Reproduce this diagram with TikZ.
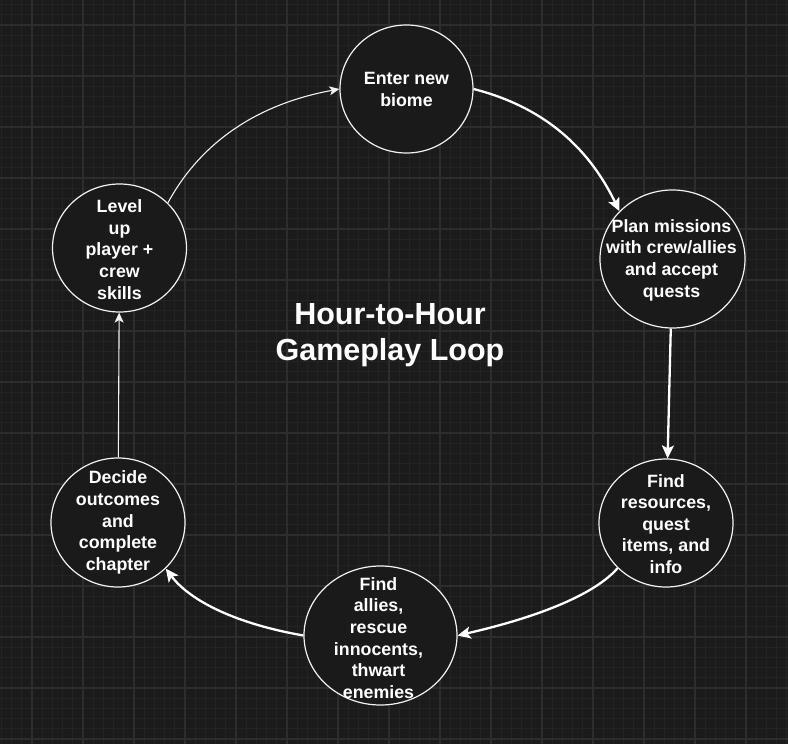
\documentclass[tikz,border=0pt]{standalone}
\usepackage{fontspec}
\setmainfont{Liberation Sans}
\usetikzlibrary{shapes.geometric,arrows.meta}
\definecolor{bgc}{HTML}{1B1B1B}
\definecolor{gridminor}{HTML}{232323}
\definecolor{gridmajor}{HTML}{2D2D2D}
\definecolor{nodefill}{HTML}{1A1A1A}
\definecolor{edgecol}{HTML}{F2F2F2}
\tikzset{
  loopnode/.style={ellipse, draw=edgecol, line width=1.2pt, fill=nodefill, inner sep=0pt},
  looptext/.style={text=white, align=center, inner sep=0pt, font=\fontsize{17.8}{21.6}\selectfont\bfseries},
  titletext/.style={text=white, align=center, inner sep=0pt, font=\fontsize{30.5}{36}\selectfont\bfseries},
  thickarrow/.style={draw=white, line width=2.3pt, -{Stealth[length=13pt,width=12pt,inset=3pt]}},
  thinarrow/.style={draw=edgecol, line width=1.1pt, -{Stealth[length=10pt,width=9pt,inset=2.5pt]}},
  minorline/.style={draw=gridminor, line width=1pt},
  majorline/.style={draw=gridmajor, line width=1.5pt}
}
\begin{document}
\begin{tikzpicture}[x=1pt, y=-1pt]
\useasboundingbox (0,0) rectangle (788,744);
\fill[bgc] (0,0) rectangle (788,744);
\begin{scope}
\clip (0,0) rectangle (788,744);
\foreach \i in {-4,...,76} {
  \pgfmathsetmacro{\xx}{32+\i*10.2}
  \draw[minorline] (\xx,0) -- (\xx,744);
}
\foreach \j in {-3,...,72} {
  \pgfmathsetmacro{\yy}{25+\j*10.2}
  \draw[minorline] (0,\yy) -- (788,\yy);
}
\foreach \k in {-1,...,15} {
  \pgfmathsetmacro{\xx}{32+\k*51}
  \draw[majorline] (\xx,0) -- (\xx,744);
}
\foreach \k in {-1,...,14} {
  \pgfmathsetmacro{\yy}{25+\k*51}
  \draw[majorline] (0,\yy) -- (788,\yy);
}
\end{scope}

\node[loopnode, minimum width=133pt, minimum height=128pt] (enter) at (406.5,89) {};
\node[loopnode, minimum width=145pt, minimum height=138pt] (plan) at (672.5,259) {};
\node[loopnode, minimum width=134pt, minimum height=128pt] (find) at (666,523) {};
\node[loopnode, minimum width=153pt, minimum height=139pt] (allies) at (380.5,635.5) {};
\node[loopnode, minimum width=134pt, minimum height=129pt] (decide) at (118,522.5) {};
\node[loopnode, minimum width=134pt, minimum height=128pt] (level) at (119.5,248) {};

\node[looptext] (entert) at (406.5,89.5) {Enter new\\biome};
\node[looptext] (plant) at (671.5,260) {Plan missions\\with crew/allies\\and accept\\quests};
\node[looptext] (findt) at (666,524) {Find\\resources,\\quest\\items, and\\info};
\node[looptext] (alliest) at (378.5,638) {Find\\allies,\\rescue\\innocents,\\thwart\\enemies};
\node[looptext] (decidet) at (118,522.5) {Decide\\outcomes\\and\\complete\\chapter};
\node[looptext] (levelt) at (119.5,249.5) {Level\\up\\player +\\crew\\skills};

\node[titletext] (title) at (390,335) {Hour-to-Hour\\Gameplay Loop};

\draw[thickarrow] (enter.east) .. controls (540,106) and (587,144) .. (plan.138);
\draw[thickarrow] (plan) -- (find);
\draw[thickarrow] (find.223) .. controls (596,593) and (543,616) .. (allies.east);
\draw[thickarrow] (allies.west) .. controls (236.7,623.9) and (190.3,601.2) .. (decide.-44);
\draw[thinarrow] (decide) -- (level);
\draw[thinarrow] (level.43.5) .. controls (201.2,141.5) and (258.1,103.9) .. (enter.west);
\end{tikzpicture}
\end{document}
